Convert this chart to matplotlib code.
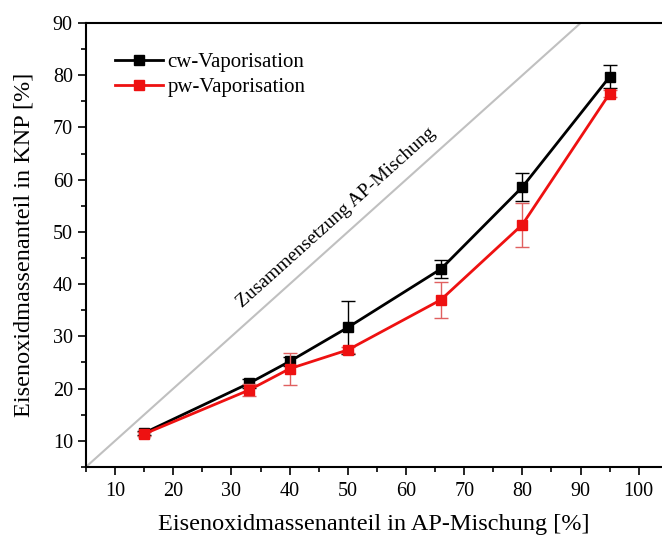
import numpy as np
import matplotlib.pyplot as plt
from matplotlib.ticker import MultipleLocator

plt.rcParams['font.family'] = ['Liberation Serif', 'DejaVu Serif']

# Eisenoxidanteil AP-Mischung vs. KNP
x = [15, 33, 40, 50, 66, 80, 95]
cw = [11.5, 21.0, 25.2, 31.7, 42.9, 58.6, 79.7]
cw_err = [0.4, 0.9, 0.8, 5.1, 1.8, 2.6, 2.2]
pw = [11.3, 19.7, 23.8, 27.4, 37.0, 51.4, 76.5]
pw_err = [0.4, 1.2, 3.1, 0.5, 3.4, 4.2, 0.6]

fig = plt.figure(figsize=(6.62, 5.36), dpi=100)
ax = fig.add_axes([0.130, 0.129, 0.870, 0.828])

ax.plot([5, 90], [5, 90], color='#c0c0c0', lw=1.5, zorder=1)
ax.text(48.0, 52.7, 'Zusammensetzung AP-Mischung', rotation=41.9,
        ha='center', va='center', fontsize=14, rotation_mode='anchor')

# Fehlerbalken ohne Legende, Linien mit Legende
ax.errorbar(x, cw, yerr=cw_err, fmt='none', ecolor='black', elinewidth=1,
            capsize=5, capthick=1, zorder=3)
ax.errorbar(x, pw, yerr=pw_err, fmt='none', ecolor='#e06060', elinewidth=1,
            capsize=5, capthick=1, zorder=4)
ax.plot(x, cw, color='black', lw=2, marker='s', ms=7.5,
        label='cw-Vaporisation', zorder=3)
ax.plot(x, pw, color='#ee1111', lw=2, marker='s', ms=7.5,
        label='pw-Vaporisation', zorder=4)

ax.set_xlim(5, 104)
ax.set_ylim(5, 90)
ax.xaxis.set_minor_locator(MultipleLocator(5))
ax.yaxis.set_minor_locator(MultipleLocator(5))
ax.set_xticks(np.arange(10, 101, 10))
ax.set_yticks(np.arange(10, 91, 10))
ax.tick_params(which='both', direction='out', labelsize=14.5, width=1.2)
ax.tick_params(which='major', length=6)
ax.tick_params(which='minor', length=3.5)
ax.tick_params(axis='x', pad=5)
for s in ax.spines.values():
    s.set_linewidth(1.5)
ax.spines['right'].set_visible(False)

ax.set_xlabel('Eisenoxidmassenanteil in AP-Mischung [%]', fontsize=17.5, labelpad=9)
ax.set_ylabel('Eisenoxidmassenanteil in KNP [%]', fontsize=17.5, labelpad=13)

ax.legend(loc='upper left', frameon=False, fontsize=15,
          bbox_to_anchor=(0.017, 0.976), handlelength=2.3,
          handletextpad=0.25, labelspacing=0.25)

plt.savefig('out.png')
